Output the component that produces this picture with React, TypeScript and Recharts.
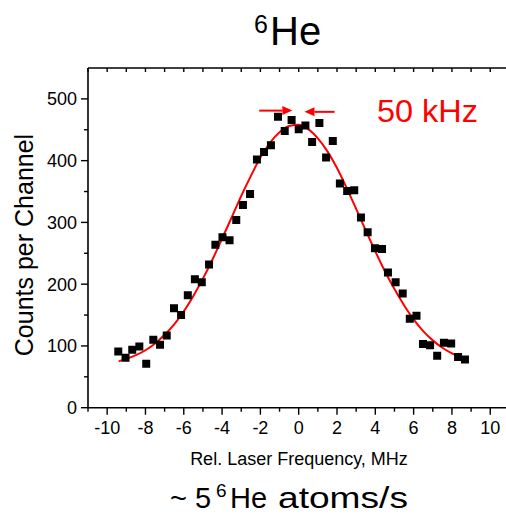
import { ComposedChart, Line, Scatter, XAxis, YAxis, ReferenceLine } from 'recharts'

// measured points (MHz, counts)
const freqMHz = [
  -9.42, -9.04, -8.69, -8.32, -7.96, -7.59, -7.24, -6.89, -6.51, -6.14,
  -5.79, -5.42, -5.06, -4.68, -4.35, -3.98, -3.61, -3.26, -2.91, -2.54,
  -2.18, -1.81, -1.45, -1.08, -0.73, -0.37, 0.0, 0.35, 0.7, 1.08,
  1.43, 1.78, 2.15, 2.53, 2.9, 3.25, 3.6, 3.98, 4.35, 4.66,
  5.06, 5.43, 5.8, 6.15, 6.49, 6.86, 7.23, 7.58, 7.96, 8.32, 8.68,
]
const counts = [
  91, 81, 94, 99, 71, 110, 102, 117, 161, 150,
  182, 208, 203, 232, 264, 276, 271, 304, 328, 346,
  402, 414, 425, 471, 448, 466, 451, 457, 430, 461,
  405, 432, 363, 351, 352, 308, 284, 258, 257, 219,
  203, 185, 144, 149, 103, 101, 84, 105, 104, 82, 78,
]

// red fit curve
const fitX = [
  -9.4, -9, -8.5, -8, -7.5, -7, -6.5, -6, -5.5, -5, -4.5, -4, -3.5, -3, -2.5, -2, -1.5, -1, -0.5,
  0, 0.5, 1, 1.5, 2, 2.5, 3, 3.5, 4, 4.5, 5, 5.5, 6, 6.5, 7, 7.5, 8, 8.5, 8.7,
]
const fitY = [
  75, 79, 85, 93, 104, 118, 135, 156, 181, 209, 240, 274, 308, 343, 375, 405, 429, 446, 456,
  458, 451, 436, 415, 388, 356, 322, 287, 253, 221, 192, 166, 143, 124, 109, 97, 88, 81, 79,
]

const xTicks = [-11, -10, -9, -8, -7, -6, -5, -4, -3, -2, -1, 0, 1, 2, 3, 4, 5, 6, 7, 8, 9, 10, 11]
const yTicks = [0, 50, 100, 150, 200, 250, 300, 350, 400, 450, 500]

const points = freqMHz.map((x, i) => ({ x, y: counts[i] }))
const fit = fitX.map((x, i) => ({ x, y: fitY[i] }))

const FONT = '"Liberation Sans", Arial, sans-serif'
const RED = '#ff0000'

const BottomTick = (props: any) => {
  const { x, y, payload } = props
  const v = payload.value
  const major = v % 2 === 0
  return (
    <g>
      <line x1={x} y1={y} x2={x} y2={y + (major ? 7 : 4)} stroke="#000" strokeWidth={1.4} />
      {major && Math.abs(v) <= 10 && (
        <text x={x} y={y + 26.5} textAnchor="middle" fontSize={18} fontFamily={FONT} fill="#000">
          {v}
        </text>
      )}
    </g>
  )
}

const TopTick = (props: any) => {
  const { x, y } = props
  return <line x1={x} y1={y} x2={x} y2={y + 4} stroke="#000" strokeWidth={1.4} />
}

const LeftTick = (props: any) => {
  const { x, y, payload } = props
  const v = payload.value
  const major = v % 100 === 0
  return (
    <g>
      <line x1={x - (major ? 7 : 4)} y1={y} x2={x} y2={y} stroke="#000" strokeWidth={1.4} />
      {major && (
        <text x={x - 11} y={y + 6.5} textAnchor="end" fontSize={18} fontFamily={FONT} fill="#000">
          {v}
        </text>
      )}
    </g>
  )
}

const Arrow = (props: any) => {
  const { x1, y1, x2, y2 } = props
  const dir = Math.sign(x2 - x1) || 1
  const head = 10
  return (
    <g>
      <line x1={x1} y1={y1} x2={x2 - dir * head} y2={y2} stroke={RED} strokeWidth={2} />
      <polygon
        points={`${x2},${y2} ${x2 - dir * head},${y2 - 4.5} ${x2 - dir * head},${y2 + 4.5}`}
        fill={RED}
      />
    </g>
  )
}

export default function App() {
  return (
    <div style={{ position: 'absolute', left: 0, top: 0, width: 506, height: 515, overflow: 'hidden', background: '#fff' }}>
      <ComposedChart width={520} height={515} margin={{ top: 60, right: 10.6, bottom: 67.3, left: 0 }}>
        <XAxis
          xAxisId="bottom"
          type="number"
          dataKey="x"
          domain={[-11, 11]}
          ticks={xTicks}
          interval={0}
          allowDataOverflow
          height={40}
          tickSize={0}
          tickMargin={0}
          tickLine={false}
          axisLine={{ stroke: '#000', strokeWidth: 1.6 }}
          tick={<BottomTick />}
        />
        <XAxis
          xAxisId="top"
          orientation="top"
          type="number"
          dataKey="x"
          domain={[-11, 11]}
          ticks={xTicks}
          interval={0}
          allowDataOverflow
          height={8}
          tickSize={0}
          tickMargin={0}
          tickLine={false}
          axisLine={{ stroke: '#000', strokeWidth: 1.6 }}
          tick={<TopTick />}
        />
        <YAxis
          type="number"
          dataKey="y"
          domain={[0, 550]}
          ticks={yTicks}
          interval={0}
          allowDataOverflow
          width={88}
          tickSize={0}
          tickMargin={0}
          tickLine={false}
          axisLine={{ stroke: '#000', strokeWidth: 1.6 }}
          tick={<LeftTick />}
        />
        <Scatter xAxisId="bottom" data={points} fill="#000" shape="square" isAnimationActive={false} />
        <Line
          xAxisId="bottom"
          data={fit}
          dataKey="y"
          type="monotone"
          stroke={RED}
          strokeWidth={2}
          dot={false}
          activeDot={false}
          isAnimationActive={false}
        />
        <ReferenceLine
          xAxisId="bottom"
          segment={[{ x: -2.06, y: 481 }, { x: -0.33, y: 481 }]}
          ifOverflow="visible"
          shape={<Arrow />}
        />
        <ReferenceLine
          xAxisId="bottom"
          segment={[{ x: 1.87, y: 479 }, { x: 0.3, y: 479 }]}
          ifOverflow="visible"
          shape={<Arrow />}
        />
      </ComposedChart>
      <svg
        width={506}
        height={515}
        style={{ position: 'absolute', left: 0, top: 0, pointerEvents: 'none' }}
        fontFamily={FONT}
      >
        <text x={254} y={33} fontSize={25} fill="#000">6</text>
        <text x={270} y={45} fontSize={40} fill="#000">He</text>

        <text x={377} y={122} fontSize={31} fill={RED} textLength={101} lengthAdjust="spacingAndGlyphs">
          50 kHz
        </text>

        <text
          x={0}
          y={0}
          fontSize={25}
          fill="#000"
          textAnchor="middle"
          transform="translate(33,245) rotate(-90)"
        >
          Counts per Channel
        </text>
        <text x={299} y={465} fontSize={18} fill="#000" textAnchor="middle">
          Rel. Laser Frequency, MHz
        </text>

        <text x={170} y={508} fontSize={29} fill="#000">~ 5</text>
        <text x={216} y={497} fontSize={19} fill="#000">6</text>
        <text x={230} y={508} fontSize={29} fill="#000">He</text>
        <text x={278} y={508} fontSize={29} fill="#000" textLength={130} lengthAdjust="spacingAndGlyphs">
          atoms/s
        </text>
      </svg>
    </div>
  )
}
